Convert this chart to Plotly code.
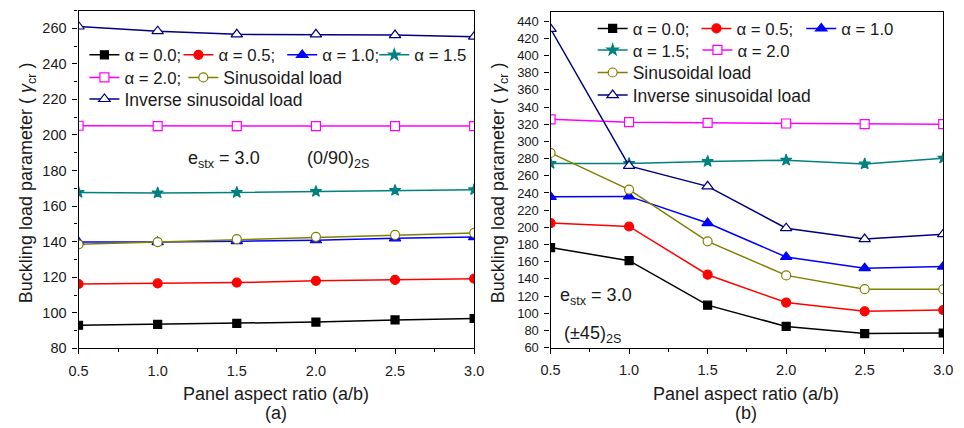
import plotly.graph_objects as go

# ---------------- data ----------------
aspect_ratio = [0.5, 1.0, 1.5, 2.0, 2.5, 3.0]

# panel (a) (0/90)2S
a_alpha00 = [93.0, 93.5, 94.0, 94.8, 96.0, 96.8]
a_alpha05 = [116.2, 116.5, 117.0, 118.0, 118.5, 119.2]
a_alpha10 = [139.8, 139.8, 140.3, 140.8, 141.9, 142.6]
a_alpha15 = [167.7, 167.4, 167.7, 168.2, 168.8, 169.2]
a_alpha20 = [205.2, 205.0, 205.0, 205.0, 205.0, 205.0]
a_sinus = [138.5, 139.8, 141.4, 142.7, 143.8, 144.9]
a_invsin = [261.0, 258.4, 256.6, 256.6, 256.2, 255.3]

# panel (b) (±45)2S
b_alpha00 = [176.5, 161.2, 109.5, 84.7, 76.4, 77.1]
b_alpha05 = [205.0, 201.0, 144.9, 112.5, 102.3, 103.8]
b_alpha10 = [235.5, 236.0, 205.0, 165.5, 152.5, 154.4]
b_alpha15 = [274.3, 274.3, 276.6, 278.2, 273.7, 280.5]
b_alpha20 = [325.7, 322.3, 321.6, 320.8, 320.0, 320.0]
b_sinus = [286.6, 243.9, 183.7, 144.1, 128.1, 128.0]
b_invsin = [431.0, 271.4, 247.7, 199.0, 186.4, 192.0]

x_ticks = [0.5, 1.0, 1.5, 2.0, 2.5, 3.0]
x_tick_labels = ["0.5", "1.0", "1.5", "2.0", "2.5", "3.0"]

names_a = ["α = 0.0;", "α = 0.5;", "α = 1.0;", "α = 1.5", "α = 2.0;",
           "Sinusoidal load", "Inverse sinusoidal load"]
names_b = ["α = 0.0;", "α = 0.5;", "α = 1.0", "α = 1.5;", "α = 2.0",
           "Sinusoidal load", "Inverse sinusoidal load"]

# ---------------- styles ----------------
FONT = "Liberation Sans, Arial, sans-serif"
TXT = "#1a1a1a"
styles = [
    dict(color="#000000", symbol="square", size=8, fill="#000000"),
    dict(color="#ff0000", symbol="circle", size=9, fill="#ff0000"),
    dict(color="#0000ff", symbol="triangle-up", size=10, fill="#0000ff"),
    dict(color="#008080", symbol="star", size=8.5, fill="#008080"),
    dict(color="#ff00ff", symbol="square", size=9, fill="#ffffff"),
    dict(color="#808000", symbol="circle", size=9, fill="#ffffff"),
    dict(color="#000080", symbol="triangle-up", size=10, fill="#ffffff"),
]

W, H = 964, 428


def px(xp):
    return xp / W


def py(yp):
    return (H - yp) / H


# legend item anchor positions (pixels): line sample start - 5, row centre
legend_pos_a = [(76, 56), (172, 56), (278, 56), (372, 56), (76, 79), (177, 79), (76, 101)]
legend_pos_b = [(595, 29), (701, 29), (808, 29), (595, 51), (702, 51), (595, 74), (595, 97)]

fig = go.Figure()

series_a = [a_alpha00, a_alpha05, a_alpha10, a_alpha15, a_alpha20, a_sinus, a_invsin]
series_b = [b_alpha00, b_alpha05, b_alpha10, b_alpha15, b_alpha20, b_sinus, b_invsin]

legend_layout = {}
k = 0
for panel, (series, names, positions) in enumerate(
        [(series_a, names_a, legend_pos_a), (series_b, names_b, legend_pos_b)]):
    xa = "x" if panel == 0 else "x2"
    ya = "y" if panel == 0 else "y2"
    for vals, name, st, pos in zip(series, names, styles, positions):
        k += 1
        lname = "legend" if k == 1 else f"legend{k}"
        fsize = 16.8 if name.startswith("α") else 17.5
        fig.add_trace(go.Scatter(
            x=aspect_ratio, y=vals, name=name, mode="lines+markers",
            xaxis=xa, yaxis=ya, legend=lname, showlegend=True,
            line=dict(color=st["color"], width=1.5),
            marker=dict(symbol=st["symbol"], size=st["size"], color=st["fill"],
                        line=dict(color=st["color"], width=1.2)),
        ))
        legend_layout[lname] = dict(
            orientation="h", x=px(pos[0]), y=py(pos[1]), xanchor="left",
            yanchor="middle", bgcolor="rgba(0,0,0,0)", borderwidth=0,
            font=dict(family=FONT, size=fsize, color=TXT), itemwidth=30, visible=True)

axis_common = dict(
    showline=True, linecolor="#000000", linewidth=1.2, mirror=True,
    ticks="outside", ticklen=5, tickwidth=1.2, tickcolor="#000000",
    showgrid=False, zeroline=False,
)

xax = dict(axis_common, tickvals=x_ticks, ticktext=x_tick_labels,
           range=[0.5, 3.0], tickfont=dict(family=FONT, size=14.5, color=TXT),
           ticklabelstandoff=4,
           minor=dict(dtick=0.25, tick0=0.5, ticks="outside", ticklen=3,
                      tickcolor="#000000", tickwidth=1.2))

fig.update_layout(
    width=W, height=H,
    margin=dict(l=0, r=0, t=0, b=0),
    paper_bgcolor="white", plot_bgcolor="white",
    font=dict(family=FONT, color=TXT),
    showlegend=True,
    xaxis=dict(xax, domain=[px(70), px(474)], anchor="y"),
    yaxis=dict(axis_common, domain=[py(355), py(10.7)], anchor="x",
               range=[80, 270], dtick=20, tick0=0, ticklabelstandoff=3,
               tickfont=dict(family=FONT, size=14.5, color=TXT),
               minor=dict(dtick=10, ticks="outside", ticklen=3,
                          tickcolor="#000000", tickwidth=1.2)),
    xaxis2=dict(xax, domain=[px(552), px(953)], anchor="y2"),
    yaxis2=dict(axis_common, domain=[py(354.3), py(12.7)], anchor="x2",
                range=[60, 450], dtick=20, tick0=0, ticklabelstandoff=3,
                tickfont=dict(family=FONT, size=13, color=TXT)),
    **legend_layout,
)

ann_font = dict(family=FONT, size=18, color=TXT)
annotations = [
    dict(text="Panel aspect ratio (a/b)", x=px(272), y=py(401), xref="paper", yref="paper",
         showarrow=False, font=ann_font, xanchor="center", yanchor="middle"),
    dict(text="(a)", x=px(272), y=py(421), xref="paper", yref="paper",
         showarrow=False, font=ann_font, xanchor="center", yanchor="middle"),
    dict(text="Panel aspect ratio (a/b)", x=px(752), y=py(401), xref="paper", yref="paper",
         showarrow=False, font=ann_font, xanchor="center", yanchor="middle"),
    dict(text="(b)", x=px(752), y=py(421), xref="paper", yref="paper",
         showarrow=False, font=ann_font, xanchor="center", yanchor="middle"),
    dict(text="Buckling load parameter ( <i>γ</i><sub>cr</sub> )", x=px(18), y=py(186),
         xref="paper", yref="paper", textangle=-90, showarrow=False, font=ann_font,
         xanchor="center", yanchor="middle"),
    dict(text="Buckling load parameter ( <i>γ</i><sub>cr</sub> )", x=px(500), y=py(186),
         xref="paper", yref="paper", textangle=-90, showarrow=False, font=ann_font,
         xanchor="center", yanchor="middle"),
    dict(text="e<sub>stx</sub> = 3.0", x=1.18, y=186, xref="x", yref="y",
         showarrow=False, font=ann_font, xanchor="left", yanchor="middle"),
    dict(text="(0/90)<sub>2S</sub>", x=1.93, y=186, xref="x", yref="y",
         showarrow=False, font=ann_font, xanchor="left", yanchor="middle"),
    dict(text="e<sub>stx</sub> = 3.0", x=0.55, y=120, xref="x2", yref="y2",
         showarrow=False, font=ann_font, xanchor="left", yanchor="middle"),
    dict(text="(±45)<sub>2S</sub>", x=0.57, y=75, xref="x2", yref="y2",
         showarrow=False, font=ann_font, xanchor="left", yanchor="middle"),
]
fig.update_layout(annotations=annotations)

fig.write_html("out.html")
